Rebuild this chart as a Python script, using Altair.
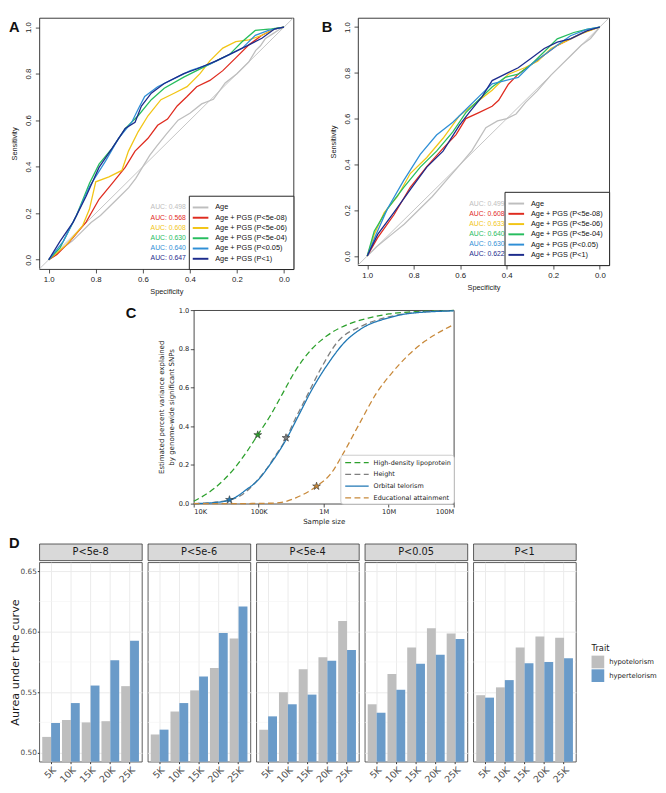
import altair as alt
import pandas as pd

FONT_R = "Liberation Sans"
FONT_PY = "DejaVu Sans"
INK = "#222222"
STAR_PATH = ("M0,-1L0.2245,-0.309L0.951,-0.309L0.363,0.118L0.588,0.809L0,0.382"
             "L-0.588,0.809L-0.363,0.118L-0.951,-0.309L-0.2245,-0.309Z")

# ---------------- Panels A & B : ROC curves ----------------
ROC_SERIES = ["Age", "Age + PGS (P<5e-08)", "Age + PGS (P<5e-06)",
              "Age + PGS (P<5e-04)", "Age + PGS (P<0.05)", "Age + PGS (P<1)"]
ROC_COLORS = ["#BEBEBE", "#DF2B1F", "#F2C516", "#26BD5E", "#2F8FD6", "#1C2B8C"]
AUC_A = ["0.498", "0.568", "0.608", "0.630", "0.640", "0.647"]
AUC_B = ["0.499", "0.608", "0.633", "0.640", "0.630", "0.622"]
ROC_TICKS = [0.0, 0.2, 0.4, 0.6, 0.8, 1.0]
ROC_DOMAIN = [-0.04, 1.04]

A_AGE_SPEC = [1.0, 0.97, 0.94, 0.90, 0.86, 0.82, 0.78, 0.74, 0.70, 0.66, 0.63, 0.60, 0.57, 0.54, 0.50, 0.45, 0.40, 0.35, 0.30, 0.25, 0.20, 0.15, 0.12, 0.10, 0.08, 0.05, 0.02, 0.0]
A_AGE_SENS = [0.0, 0.02, 0.05, 0.08, 0.12, 0.16, 0.19, 0.23, 0.27, 0.31, 0.35, 0.40, 0.45, 0.49, 0.54, 0.60, 0.63, 0.67, 0.69, 0.76, 0.80, 0.85, 0.90, 0.92, 0.95, 0.97, 0.99, 1.0]
A_RED_SPEC = [1.0, 0.965, 0.91, 0.841, 0.786, 0.73, 0.675, 0.633, 0.578, 0.537, 0.495, 0.454, 0.412, 0.371, 0.315, 0.26, 0.205, 0.149, 0.094, 0.039, 0.0]
A_RED_SENS = [0.0, 0.023, 0.079, 0.162, 0.26, 0.328, 0.397, 0.467, 0.522, 0.578, 0.605, 0.661, 0.702, 0.744, 0.771, 0.813, 0.868, 0.924, 0.965, 0.993, 1.0]
A_YEL_SPEC = [1.0, 0.924, 0.855, 0.827, 0.80, 0.744, 0.689, 0.661, 0.62, 0.578, 0.523, 0.467, 0.412, 0.357, 0.315, 0.26, 0.205, 0.149, 0.094, 0.039, 0.0]
A_YEL_SENS = [0.0, 0.065, 0.148, 0.217, 0.335, 0.356, 0.384, 0.467, 0.55, 0.619, 0.688, 0.716, 0.744, 0.80, 0.855, 0.91, 0.938, 0.945, 0.965, 0.993, 1.0]
A_GRN_SPEC = [1.0, 0.952, 0.882, 0.827, 0.786, 0.73, 0.675, 0.62, 0.564, 0.509, 0.426, 0.371, 0.288, 0.232, 0.177, 0.122, 0.053, 0.0]
A_GRN_SENS = [0.0, 0.051, 0.19, 0.328, 0.411, 0.48, 0.564, 0.619, 0.688, 0.737, 0.785, 0.813, 0.855, 0.882, 0.938, 0.986, 0.993, 1.0]
A_LBL_SPEC = [1.0, 0.938, 0.882, 0.827, 0.758, 0.703, 0.647, 0.62, 0.592, 0.537, 0.454, 0.398, 0.315, 0.232, 0.177, 0.122, 0.066, 0.0]
A_LBL_SENS = [0.0, 0.079, 0.19, 0.314, 0.425, 0.522, 0.591, 0.647, 0.702, 0.744, 0.785, 0.813, 0.841, 0.882, 0.91, 0.965, 0.986, 1.0]
A_DBL_SPEC = [1.0, 0.952, 0.896, 0.841, 0.786, 0.73, 0.675, 0.633, 0.606, 0.564, 0.509, 0.426, 0.371, 0.288, 0.205, 0.149, 0.094, 0.039, 0.0]
A_DBL_SENS = [0.0, 0.079, 0.162, 0.273, 0.397, 0.48, 0.564, 0.591, 0.661, 0.716, 0.758, 0.80, 0.82, 0.855, 0.896, 0.924, 0.952, 0.993, 1.0]

B_AGE_SPEC = [1.0, 0.96, 0.90, 0.84, 0.78, 0.72, 0.66, 0.60, 0.55, 0.49, 0.44, 0.40, 0.36, 0.32, 0.27, 0.21, 0.16, 0.12, 0.08, 0.04, 0.0]
B_AGE_SENS = [0.0, 0.04, 0.09, 0.14, 0.20, 0.26, 0.33, 0.40, 0.46, 0.56, 0.59, 0.60, 0.62, 0.67, 0.72, 0.79, 0.84, 0.88, 0.92, 0.95, 1.0]
B_RED_SPEC = [1.0, 0.955, 0.885, 0.815, 0.744, 0.674, 0.618, 0.576, 0.52, 0.463, 0.435, 0.393, 0.351, 0.295, 0.239, 0.183, 0.126, 0.07, 0.0]
B_RED_SENS = [0.0, 0.08, 0.18, 0.30, 0.39, 0.47, 0.53, 0.60, 0.626, 0.654, 0.68, 0.75, 0.794, 0.836, 0.878, 0.92, 0.948, 0.976, 1.0]
B_YEL_SPEC = [1.0, 0.97, 0.927, 0.87, 0.815, 0.744, 0.674, 0.604, 0.534, 0.463, 0.393, 0.323, 0.267, 0.21, 0.154, 0.084, 0.0]
B_YEL_SENS = [0.0, 0.094, 0.19, 0.26, 0.36, 0.43, 0.514, 0.612, 0.668, 0.724, 0.794, 0.822, 0.85, 0.906, 0.934, 0.969, 1.0]
B_GRN_SPEC = [1.0, 0.97, 0.913, 0.843, 0.772, 0.702, 0.632, 0.576, 0.52, 0.463, 0.407, 0.351, 0.295, 0.239, 0.183, 0.112, 0.056, 0.0]
B_GRN_SENS = [0.0, 0.108, 0.206, 0.30, 0.388, 0.458, 0.542, 0.626, 0.682, 0.738, 0.78, 0.794, 0.836, 0.892, 0.948, 0.976, 0.99, 1.0]
B_LBL_SPEC = [1.0, 0.962, 0.913, 0.843, 0.772, 0.702, 0.632, 0.576, 0.52, 0.463, 0.407, 0.351, 0.295, 0.239, 0.183, 0.126, 0.056, 0.0]
B_LBL_SENS = [0.0, 0.094, 0.206, 0.33, 0.444, 0.528, 0.584, 0.64, 0.696, 0.752, 0.766, 0.78, 0.836, 0.878, 0.92, 0.962, 0.99, 1.0]
B_DBL_SPEC = [1.0, 0.955, 0.885, 0.815, 0.744, 0.674, 0.604, 0.562, 0.506, 0.463, 0.407, 0.351, 0.295, 0.239, 0.183, 0.126, 0.056, 0.0]
B_DBL_SENS = [0.0, 0.094, 0.19, 0.29, 0.388, 0.458, 0.57, 0.626, 0.696, 0.766, 0.794, 0.822, 0.864, 0.906, 0.934, 0.948, 0.983, 1.0]

# ---------------- Panel C : variance explained vs sample size ----------------
C_TRAITS = ["High-density lipoprotein", "Height", "Orbital telorism", "Educational attainment"]
C_COLORS = ["#2CA02C", "#7F7F7F", "#1F77B4", "#C8893A"]
C_DASHES = [[6, 3.5], [6, 3.5], [1, 0], [6, 3.5]]
C_TICK_VALUES = [1e4, 1e5, 1e6, 1e7, 1e8]
C_TICK_LABELS = ["10K", "100K", "1M", "10M", "100M"]
C_Y_TICKS = [0.0, 0.2, 0.4, 0.6, 0.8, 1.0]

HDL_N = [10000, 20900, 41700, 66100, 96600, 148000, 234000, 372000, 661000, 1150000, 2510000, 5010000, 10000000, 31600000, 100000000]
HDL_V = [0.012, 0.08, 0.18, 0.27, 0.355, 0.45, 0.57, 0.69, 0.80, 0.87, 0.93, 0.96, 0.98, 0.993, 0.998]
HEIGHT_N = [10000, 31600, 63100, 89100, 126000, 178000, 263000, 355000, 513000, 912000, 1580000, 3980000, 10000000, 31600000, 100000000]
HEIGHT_V = [0.0, 0.015, 0.06, 0.11, 0.17, 0.245, 0.335, 0.43, 0.535, 0.70, 0.83, 0.92, 0.965, 0.99, 0.998]
ORBITAL_N = [10000, 20000, 35500, 66100, 93300, 148000, 263000, 417000, 661000, 1150000, 2040000, 3630000, 10000000, 20000000, 100000000]
ORBITAL_V = [0.0, 0.005, 0.018, 0.075, 0.115, 0.20, 0.33, 0.46, 0.59, 0.72, 0.83, 0.90, 0.96, 0.982, 0.996]
EDU_N = [10000, 31600, 100000, 209000, 372000, 776000, 1290000, 2040000, 3630000, 6460000, 11500000, 20400000, 36300000, 63100000, 100000000]
EDU_V = [0.0, 0.0, 0.001, 0.005, 0.03, 0.09, 0.155, 0.265, 0.42, 0.57, 0.68, 0.77, 0.84, 0.89, 0.925]
STAR_N = [96600, 263000, 35500, 776000]
STAR_V = [0.355, 0.34, 0.02, 0.09]

# ---------------- Panel D : AUC bars ----------------
D_THRESH = ["P<5e-8", "P<5e-6", "P<5e-4", "P<0.05", "P<1"]
D_SIZES = ["5K", "10K", "15K", "20K", "25K"]
D_TRAITS = ["hypotelorism", "hypertelorism"]
D_COLORS = ["#BEBEBE", "#6A9BC9"]
D_HYPO = [
    [0.513, 0.527, 0.525, 0.526, 0.555],
    [0.515, 0.534, 0.5515, 0.570, 0.5945],
    [0.519, 0.550, 0.569, 0.579, 0.609],
    [0.540, 0.565, 0.587, 0.603, 0.5985],
    [0.5475, 0.554, 0.587, 0.596, 0.595],
]
D_HYPER = [
    [0.5245, 0.541, 0.5555, 0.5765, 0.5925],
    [0.519, 0.541, 0.563, 0.599, 0.621],
    [0.530, 0.540, 0.548, 0.576, 0.585],
    [0.533, 0.552, 0.5735, 0.581, 0.594],
    [0.5455, 0.560, 0.574, 0.575, 0.578],
]
D_Y_TICKS = [0.50, 0.55, 0.60, 0.65]
D_Y_MINOR = [0.525, 0.575, 0.625]
D_Y_DOMAIN = [0.4925, 0.6575]

# layout sizes
W_A, H_A = 260, 257
W_B, H_B = 257, 253
W_C, H_C = 266, 198
W_D, H_D, H_STRIP = 105, 204, 17


def roc_panel(curves, aucs, letter, w, h, letter_x):
    rows = []
    for name, spec, sens in curves:
        for k, (s, t) in enumerate(zip(spec, sens)):
            rows.append({"series": name, "spec": s, "sens": t, "k": k})
    df = pd.DataFrame(rows)
    cscale = alt.Scale(domain=ROC_SERIES, range=ROC_COLORS)
    xs = alt.Scale(domain=ROC_DOMAIN, reverse=True, nice=False, zero=False)
    ys = alt.Scale(domain=ROC_DOMAIN, nice=False, zero=False)
    common = dict(values=ROC_TICKS, format=".1f", grid=False, domain=False, tickSize=4,
                  tickColor=INK, tickWidth=0.8, labelFont=FONT_R, labelFontSize=8,
                  labelColor=INK, titleFont=FONT_R, titleFontSize=7.5,
                  titleFontWeight="normal", titleColor=INK)
    xaxis = alt.Axis(title="Specificity", labelPadding=3, titlePadding=4, **common)
    yaxis = alt.Axis(title="Sensitivity", labelAngle=270, labelPadding=3, titlePadding=6, **common)
    legend = alt.Legend(title=None, orient="bottom-right", offset=0, padding=6,
                        strokeColor=INK, fillColor="white", cornerRadius=0,
                        symbolType="M-1.6,0H1.6", symbolSize=100, symbolStrokeWidth=2,
                        labelFont=FONT_R, labelFontSize=7.5, labelColor="#111111",
                        labelOffset=9, rowPadding=0.5, labelLimit=200)
    diag_df = pd.DataFrame({"x": [ROC_DOMAIN[1]], "y": [ROC_DOMAIN[0]],
                            "x2": [ROC_DOMAIN[0]], "y2": [ROC_DOMAIN[1]]})
    diag = alt.Chart(diag_df).mark_rule(color="#BEBEBE", strokeWidth=0.9).encode(
        x=alt.X("x:Q", scale=xs, axis=xaxis), y=alt.Y("y:Q", scale=ys, axis=yaxis),
        x2="x2:Q", y2="y2:Q")
    lines = alt.Chart(df).mark_line(strokeWidth=1.3).encode(
        x=alt.X("spec:Q", scale=xs, axis=xaxis),
        y=alt.Y("sens:Q", scale=ys, axis=yaxis),
        color=alt.Color("series:N", scale=cscale, sort=ROC_SERIES, legend=legend),
        order="k:Q")
    auc_df = pd.DataFrame({"series": ROC_SERIES,
                           "label": ["AUC: " + a for a in aucs],
                           "idx": list(range(len(ROC_SERIES)))})
    auc = alt.Chart(auc_df).mark_text(align="right", baseline="middle", font=FONT_R, fontSize=7).encode(
        x=alt.value(150),
        y=alt.Y("idx:Q", scale=alt.Scale(domain=[0, 5], range=[h - 63, h - 11]), axis=None),
        text="label:N",
        color=alt.Color("series:N", scale=cscale, sort=ROC_SERIES, legend=legend))
    let = alt.Chart(pd.DataFrame({"t": [letter]})).mark_text(
        align="left", baseline="top", font=FONT_R, fontSize=15, fontWeight="bold", color="#111111"
    ).encode(text="t:N", x=alt.value(letter_x), y=alt.value(2))
    return alt.layer(alt.layer(diag, lines), auc, let).resolve_scale(y="independent").properties(
        width=w, height=h, view=alt.ViewBackground(stroke=INK, strokeWidth=0.9))


chart_a = roc_panel([
    (ROC_SERIES[0], A_AGE_SPEC, A_AGE_SENS),
    (ROC_SERIES[1], A_RED_SPEC, A_RED_SENS),
    (ROC_SERIES[2], A_YEL_SPEC, A_YEL_SENS),
    (ROC_SERIES[3], A_GRN_SPEC, A_GRN_SENS),
    (ROC_SERIES[4], A_LBL_SPEC, A_LBL_SENS),
    (ROC_SERIES[5], A_DBL_SPEC, A_DBL_SENS)], AUC_A, "A", W_A, H_A, -31)
chart_b = roc_panel([
    (ROC_SERIES[0], B_AGE_SPEC, B_AGE_SENS),
    (ROC_SERIES[1], B_RED_SPEC, B_RED_SENS),
    (ROC_SERIES[2], B_YEL_SPEC, B_YEL_SENS),
    (ROC_SERIES[3], B_GRN_SPEC, B_GRN_SENS),
    (ROC_SERIES[4], B_LBL_SPEC, B_LBL_SENS),
    (ROC_SERIES[5], B_DBL_SPEC, B_DBL_SENS)], AUC_B, "B", W_B, H_B, -37)

# ---------------- Panel C ----------------
c_rows = []
for trait, ns, vs in zip(C_TRAITS, [HDL_N, HEIGHT_N, ORBITAL_N, EDU_N], [HDL_V, HEIGHT_V, ORBITAL_V, EDU_V]):
    for k, (n, v) in enumerate(zip(ns, vs)):
        c_rows.append({"trait": trait, "n": n, "v": v, "k": k})
c_df = pd.DataFrame(c_rows)
star_df = pd.DataFrame({"trait": C_TRAITS, "n": STAR_N, "v": STAR_V})

label_expr = "[" + ",".join("'" + s + "'" for s in C_TICK_LABELS) + "][round(log(datum.value) / LN10) - 4]"
c_xs = alt.Scale(type="log", domain=[C_TICK_VALUES[0], C_TICK_VALUES[-1]], nice=False)
c_ys = alt.Scale(domain=[0, 1], nice=False, zero=False)
c_common = dict(grid=False, domain=False, tickSize=3.5, tickColor=INK, tickWidth=0.8,
                labelFont=FONT_PY, labelFontSize=6.8, labelColor=INK, titleFont=FONT_PY,
                titleFontSize=7.2, titleFontWeight="normal", titleColor=INK)
c_xaxis = alt.Axis(values=C_TICK_VALUES, labelExpr=label_expr, title="Sample size",
                   labelPadding=2, titlePadding=2, **c_common)
c_yaxis = alt.Axis(values=C_Y_TICKS, format=".1f",
                   title=["Estimated percent variance explained", "by genome-wide significant SNPs"],
                   titleLineHeight=10, labelPadding=1.5, titlePadding=3, **c_common)
c_legend = alt.Legend(title=None, orient="bottom-right", offset=0, padding=2,
                      strokeColor="#CCCCCC", fillColor="white", cornerRadius=3,
                      symbolType="M-2.4,0H2.4", symbolSize=100, symbolStrokeWidth=1.3,
                      symbolOffset=9, labelOffset=11, labelFont=FONT_PY, labelFontSize=6.6,
                      labelColor=INK, rowPadding=2, labelLimit=200)
c_lines = alt.Chart(c_df).mark_line(strokeWidth=1.3, interpolate="monotone").encode(
    x=alt.X("n:Q", scale=c_xs, axis=c_xaxis),
    y=alt.Y("v:Q", scale=c_ys, axis=c_yaxis),
    color=alt.Color("trait:N", scale=alt.Scale(domain=C_TRAITS, range=C_COLORS), sort=C_TRAITS, legend=c_legend),
    strokeDash=alt.StrokeDash("trait:N", scale=alt.Scale(domain=C_TRAITS, range=C_DASHES), sort=C_TRAITS, legend=c_legend),
    order="k:Q")
c_stars = alt.Chart(star_df).mark_point(shape=STAR_PATH, filled=True, size=70, opacity=1,
                                        stroke="#333333", strokeWidth=0.6).encode(
    x=alt.X("n:Q", scale=c_xs, axis=c_xaxis),
    y=alt.Y("v:Q", scale=c_ys, axis=c_yaxis),
    fill=alt.Fill("trait:N", scale=alt.Scale(domain=C_TRAITS, range=C_COLORS), legend=None))
c_letter = alt.Chart(pd.DataFrame({"t": ["C"]})).mark_text(
    align="center", baseline="middle", font=FONT_R, fontSize=15, fontWeight="bold", color="#111111"
).encode(text="t:N", x=alt.value(-64), y=alt.value(3))
chart_c = alt.layer(c_lines, c_stars, c_letter).properties(
    width=W_C, height=H_C, view=alt.ViewBackground(stroke="#333333", strokeWidth=0.9))

spacer = alt.Chart(pd.DataFrame({"a": [0]})).mark_point(opacity=0).encode(
    x=alt.value(0), y=alt.value(0)).properties(
    width=88, height=H_C, view=alt.ViewBackground(strokeOpacity=0))

# ---------------- Panel D ----------------
d_rows = []
for i, thr in enumerate(D_THRESH):
    for j, sz in enumerate(D_SIZES):
        d_rows.append({"thr": thr, "size": sz, "trait": D_TRAITS[0], "auc": D_HYPO[i][j]})
        d_rows.append({"thr": thr, "size": sz, "trait": D_TRAITS[1], "auc": D_HYPER[i][j]})
d_df = pd.DataFrame(d_rows)

panels = []
for i, thr in enumerate(D_THRESH):
    sub = d_df[d_df["thr"] == thr]
    first = i == 0
    last = i == len(D_THRESH) - 1
    ys = alt.Scale(domain=D_Y_DOMAIN, nice=False, zero=False)
    if first:
        yaxis = alt.Axis(values=D_Y_TICKS, format=".2f", title="Aurea under the curve",
                         titleFont=FONT_PY, titleFontSize=11.5, titleFontWeight="normal",
                         titleColor="#1A1A1A", titlePadding=0, labelFont=FONT_PY,
                         labelFontSize=7.5, labelColor="#4D4D4D", labelPadding=1,
                         tickSize=2, tickColor="#333333", domain=False, grid=True,
                         gridColor="#EBEBEB", gridWidth=1)
    else:
        yaxis = alt.Axis(values=D_Y_TICKS, title=None, labels=False, ticks=False, domain=False,
                         grid=True, gridColor="#EBEBEB", gridWidth=1)
    xaxis = alt.Axis(title=None, labelAngle=315, labelAlign="right", labelBaseline="top",
                     labelFont=FONT_PY, labelFontSize=9.5, labelColor="#4D4D4D",
                     labelPadding=1, tickSize=2, tickColor="#333333", domain=False,
                     grid=True, gridColor="#EBEBEB", gridWidth=1, bandPosition=0.5)
    color_kwargs = dict(sort=D_TRAITS, scale=alt.Scale(domain=D_TRAITS, range=D_COLORS))
    if last:
        color_kwargs["legend"] = alt.Legend(
            title="Trait", orient="none", legendX=121, legendY=84, padding=0,
            titleFont=FONT_PY, titleFontSize=8.5, titleFontWeight="normal",
            titleColor="#1A1A1A", titlePadding=3, labelFont=FONT_PY,
            labelFontSize=7, labelColor="#1A1A1A", symbolType="square",
            symbolSize=169, symbolStrokeWidth=0, symbolOpacity=1,
            rowPadding=1, labelOffset=5)
    else:
        color_kwargs["legend"] = None
    minor = alt.Chart(pd.DataFrame({"v": D_Y_MINOR})).mark_rule(
        color="#F3F3F3", strokeWidth=0.6).encode(y=alt.Y("v:Q", scale=ys, axis=yaxis))
    bars = alt.Chart(sub).mark_bar().encode(
        x=alt.X("size:N", sort=D_SIZES, scale=alt.Scale(paddingInner=0.1, paddingOuter=0.15), axis=xaxis),
        xOffset=alt.XOffset("trait:N", sort=D_TRAITS, scale=alt.Scale(paddingInner=0, paddingOuter=0)),
        y=alt.Y("auc:Q", scale=ys, axis=yaxis),
        y2=alt.datum(D_Y_DOMAIN[0]),
        color=alt.Color("trait:N", **color_kwargs))
    bar_chart = alt.layer(minor, bars).properties(
        width=W_D, height=H_D, view=alt.ViewBackground(stroke="#333333", strokeWidth=0.8))
    # panel letter (visible only on the first panel; same box on every panel keeps the tops aligned)
    letter_layer = alt.Chart(pd.DataFrame({"t": ["D"]})).mark_text(
        align="left", baseline="top", font=FONT_R, fontSize=15, fontWeight="bold",
        color="#111111", opacity=1 if first else 0
    ).encode(text="t:N", x=alt.value(-31 if first else W_D / 2), y=alt.value(-8))
    strip_text = alt.Chart(pd.DataFrame({"lab": [thr]})).mark_text(
        font=FONT_PY, fontSize=10, color="#1A1A1A", baseline="middle", align="center").encode(
        text="lab:N", x=alt.value(W_D / 2), y=alt.value(H_STRIP / 2 + 0.5))
    strip = alt.layer(strip_text, letter_layer).properties(
        width=W_D, height=H_STRIP,
        view=alt.ViewBackground(fill="#D9D9D9", stroke="#333333", strokeWidth=0.8))
    panels.append(alt.vconcat(strip, bar_chart, spacing=0).resolve_scale(color="independent"))

RES = dict(color="independent", strokeDash="independent", fill="independent")
row1 = alt.hconcat(chart_a, chart_b, spacing=27).resolve_scale(**RES)
row2 = alt.hconcat(spacer, chart_c, spacing=0).resolve_scale(**RES)
row3 = alt.hconcat(*panels, spacing=4).resolve_scale(**RES)
chart = alt.vconcat(row1, row2, row3, spacing=10).resolve_scale(**RES).properties(
    padding=0, background="white")

chart.save("out.html", embed_options={"renderer": "svg", "actions": False})
